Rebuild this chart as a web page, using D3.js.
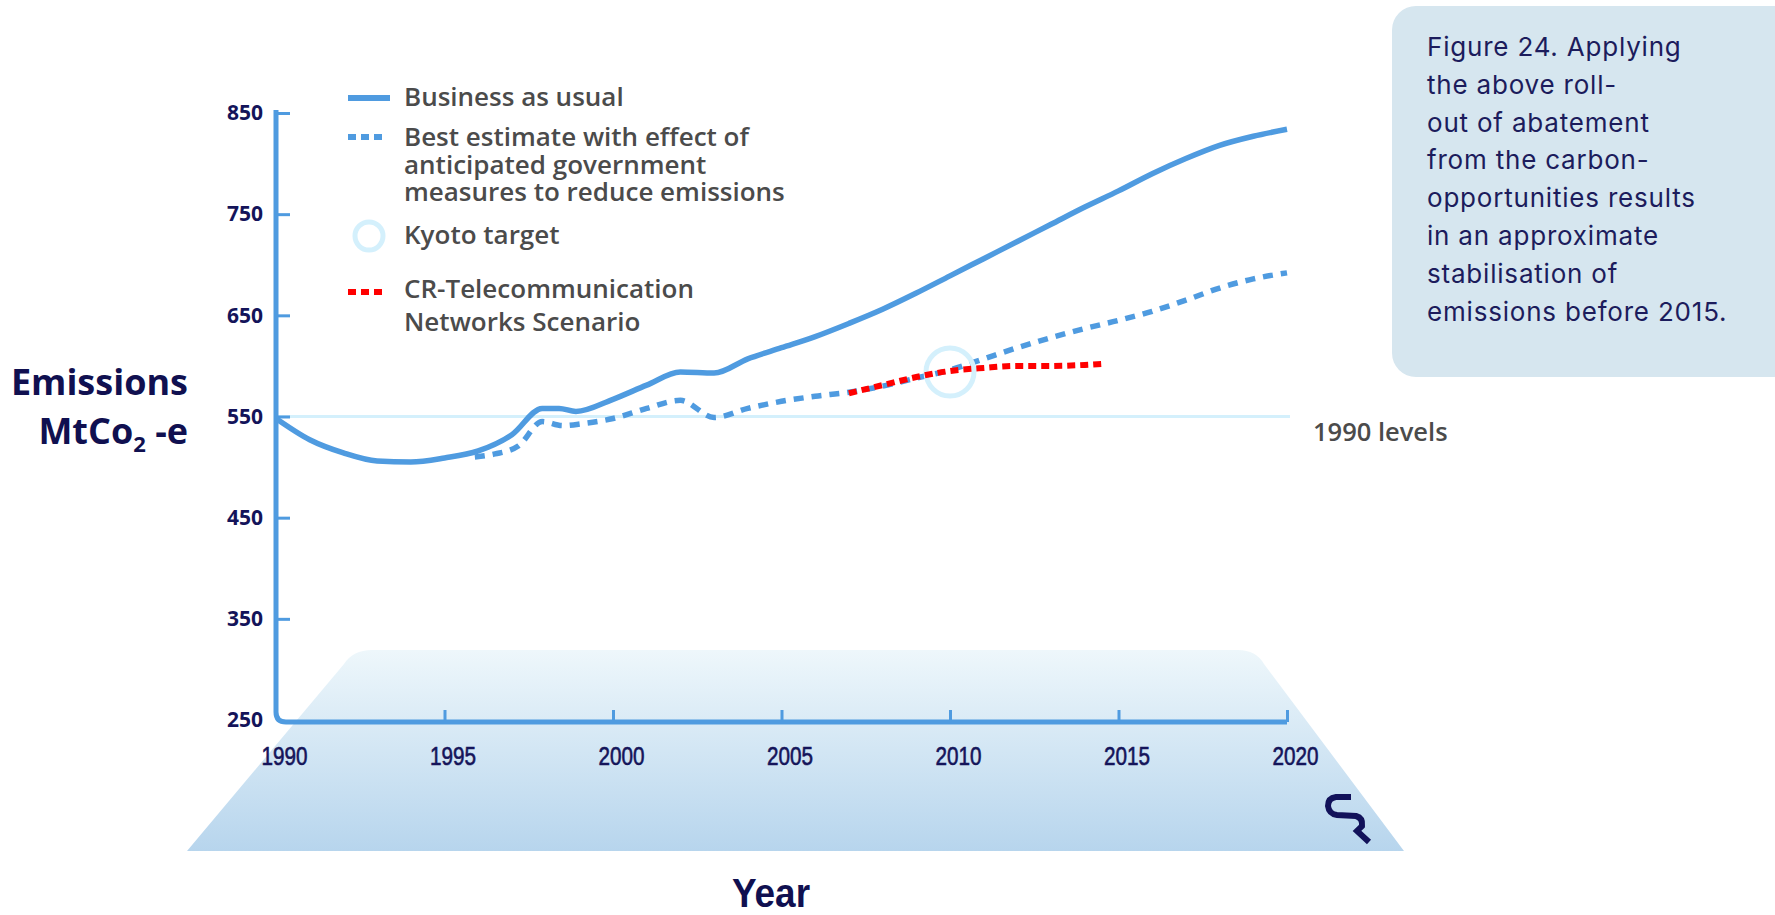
<!DOCTYPE html>
<html><head><meta charset="utf-8">
<script src="https://cdn.jsdelivr.net/npm/d3@7"></script>
<style>body{margin:0;background:#fff;} svg{display:block;}</style>
</head><body><svg id="chart" width="1775" height="915"></svg>
<script>
// ---- data ----
const yTicks = [250, 350, 450, 550, 650, 750, 850];
const xTicks = [1990, 1995, 2000, 2005, 2010, 2015, 2020];
const bauYears  = [1990,1991,1992,1993,1994,1995,1996,1997,1997.9,1998.4,1998.9,2000,2001,2002,2003,2004,2005,2006,2007,2008,2009,2010,2011,2012,2013,2014,2015,2016,2017,2018,2019,2020];
const bauValues = [548,527,514,506,505,509,516,532,558,558,555,567,581,594,593,607,618,629,642,656,672,689,706,723,740,757,773,790,805,818,827,834];
const bestYears  = [1995.9,1996.5,1997.2,1997.9,1998.5,1999.1,2000,2001,2002,2003,2004,2005,2006,2007,2008,2009,2010,2011,2012,2013,2014,2015,2016,2017,2018,2019,2020];
const bestValues = [510,513,521,545,541,543,548,558,566,549,558,565,570,574,580,588,596,607,618,628,637,645,654,665,677,686,692];
const crYears  = [2007,2008,2009,2010,2011,2012,2013,2014,2014.5];
const crValues = [573,581,589,595,598,600,600,601,602];
const kyotoYear = 2010, kyotoValue = 594;
const baselineValue = 550;
const legendItems = [
  ["Business as usual"],
  ["Best estimate with effect of", "anticipated government", "measures to reduce emissions"],
  ["Kyoto target"],
  ["CR-Telecommunication", "Networks Scenario"]
];
const captionLines = ["Figure 24. Applying", "the above roll-", "out of abatement", "from the carbon-", "opportunities results", "in an approximate", "stabilisation of", "emissions before 2015."];

// ---- setup ----
const svg = d3.select("#chart");
const BLUE = "#4f9be0", NAVY = "#14145a", GREY = "#4b4b4b";
const x = d3.scaleLinear().domain([1990, 2020]).range([276, 1287]);
const y = d3.scaleLinear().domain([250, 850]).range([720, 113]);
const axisY = 722;

// gradient
const defs = svg.append("defs");
const grad = defs.append("linearGradient").attr("id","floor").attr("x1",0).attr("y1",0).attr("x2",0).attr("y2",1);
grad.append("stop").attr("offset","0%").attr("stop-color","#eef7fb");
grad.append("stop").attr("offset","100%").attr("stop-color","#b7d5ed");

// floor trapezoid
svg.append("path")
  .attr("d","M187,851 L344,664 Q353,650 372,650 L1238,650 Q1256,650 1264,664 L1404,851 Z")
  .attr("fill","url(#floor)");

// caption box
svg.append("rect").attr("x",1392).attr("y",6).attr("width",410).attr("height",371).attr("rx",24)
  .attr("fill","#d6e6ef");
svg.append("g").selectAll("text").data(captionLines).join("text")
  .attr("x",1427).attr("y",(d,i)=>56 + i*37.8)
  .attr("font-family","Inter, 'Open Sans', sans-serif").attr("font-size",26)
  .attr("letter-spacing",0.8)
  .attr("fill","#1c1c5c").text(d=>d);

// 1990 level line
svg.append("line").attr("x1",x(1990)).attr("x2",1290).attr("y1",y(baselineValue)).attr("y2",y(baselineValue))
  .attr("stroke","#d4f0fc").attr("stroke-width",3);
svg.append("text").attr("x",1313).attr("y",441).attr("font-family","'Open Sans', sans-serif")
  .attr("font-weight",600).attr("font-size",25.5).attr("fill",GREY).text("1990 levels");

// axes
const gy = svg.append("g").attr("transform",`translate(${x(1990)},0)`)
  .call(d3.axisLeft(y).tickValues(yTicks).tickSizeInner(-14).tickSizeOuter(0).tickPadding(13));
gy.select(".domain").remove();
gy.selectAll(".tick line").attr("stroke",BLUE).attr("stroke-width",3).filter(d=>d===250).remove();
gy.selectAll(".tick text").attr("font-family","'Open Sans', sans-serif").attr("font-weight",700)
  .attr("font-size",21).attr("fill",NAVY);

const gx = svg.append("g").attr("transform",`translate(0,${axisY})`)
  .call(d3.axisBottom(x).tickValues(xTicks).tickFormat(d3.format("d")).tickSizeInner(-12).tickSizeOuter(0).tickPadding(25));
gx.select(".domain").remove();
gx.selectAll(".tick line").attr("stroke",BLUE).attr("stroke-width",3).filter(d=>d===1990).remove();
gx.selectAll(".tick text").attr("x",8)
  .attr("font-family","'Liberation Sans', sans-serif")
  .attr("font-size",25).attr("fill",NAVY).attr("stroke",NAVY).attr("stroke-width",0.6)
  .attr("textLength",46).attr("lengthAdjust","spacingAndGlyphs");

// axis frame with rounded corner
svg.append("path")
  .attr("d",`M${x(1990)},110 L${x(1990)},${axisY-10} Q${x(1990)},${axisY} ${x(1990)+10},${axisY} L${x(2020)},${axisY}`)
  .attr("fill","none").attr("stroke",BLUE).attr("stroke-width",5);

// lines
const line = d3.line().x(d=>x(d[0])).y(d=>y(d[1])).curve(d3.curveMonotoneX);
svg.append("path").datum(d3.zip(bauYears,bauValues)).attr("d",line)
  .attr("fill","none").attr("stroke",BLUE).attr("stroke-width",5.5);
svg.append("path").datum(d3.zip(bestYears,bestValues)).attr("d",line)
  .attr("fill","none").attr("stroke",BLUE).attr("stroke-width",5.5).attr("stroke-dasharray","10,8");

// kyoto circle
svg.append("circle").attr("cx",x(kyotoYear)).attr("cy",y(kyotoValue)).attr("r",24)
  .attr("fill","none").attr("stroke","#d4f0fc").attr("stroke-width",5);

svg.append("path").datum(d3.zip(crYears,crValues)).attr("d",line)
  .attr("fill","none").attr("stroke","#ff0000").attr("stroke-width",6).attr("stroke-dasharray","8,5");

// legend
const lg = svg.append("g");
lg.append("line").attr("x1",348).attr("x2",390).attr("y1",98).attr("y2",98).attr("stroke",BLUE).attr("stroke-width",6);
lg.append("line").attr("x1",348).attr("x2",384).attr("y1",137).attr("y2",137).attr("stroke",BLUE).attr("stroke-width",6).attr("stroke-dasharray","8,5");
lg.append("circle").attr("cx",369).attr("cy",236).attr("r",14).attr("fill","none").attr("stroke","#d4f0fc").attr("stroke-width",5);
lg.append("line").attr("x1",348).attr("x2",384).attr("y1",292).attr("y2",292).attr("stroke","#ff0000").attr("stroke-width",6).attr("stroke-dasharray","8,5");
const legendY = [106, 146, 244, 298];
const legendStep = [0, 27.5, 0, 33];
lg.selectAll("text").data(legendItems).join("text")
  .attr("x",404).attr("y",(d,i)=>legendY[i])
  .attr("font-family","'Open Sans', sans-serif").attr("font-weight",600).attr("font-size",26)
  .attr("fill",GREY)
  .each(function(d,i){
    d3.select(this).selectAll("tspan").data(d).join("tspan")
      .attr("x",404).attr("dy",(t,j)=> j===0 ? 0 : legendStep[i]).text(t=>t);
  });

// axis titles
svg.append("text").attr("x",188).attr("y",395).attr("text-anchor","end")
  .attr("font-family","'Open Sans', sans-serif").attr("font-weight",700).attr("font-size",36)
  .attr("fill","#101050").text("Emissions");
const mt = svg.append("text").attr("x",188).attr("y",444).attr("text-anchor","end")
  .attr("font-family","'Open Sans', sans-serif").attr("font-weight",700).attr("font-size",36)
  .attr("fill","#101050");
mt.append("tspan").text("MtCo");
mt.append("tspan").attr("font-size",22).attr("dy",8).text("2");
mt.append("tspan").attr("dy",-8).text(" -e");

svg.append("text").attr("x",771).attr("y",907).attr("text-anchor","middle")
  .attr("font-family","'Liberation Sans', sans-serif")
  .attr("font-weight",700).attr("font-size",40).attr("fill","#101050")
  .attr("textLength",78).attr("lengthAdjust","spacingAndGlyphs").text("Year");

// logo
svg.append("path").attr("d","M1351,797 L1336,797 Q1328,798 1328,806 Q1329,814 1337,815 L1356,816 Q1363,818 1362,826 L1357,831 L1369,842")
  .attr("fill","none").attr("stroke","#12125a").attr("stroke-width",6);
</script></body></html>
